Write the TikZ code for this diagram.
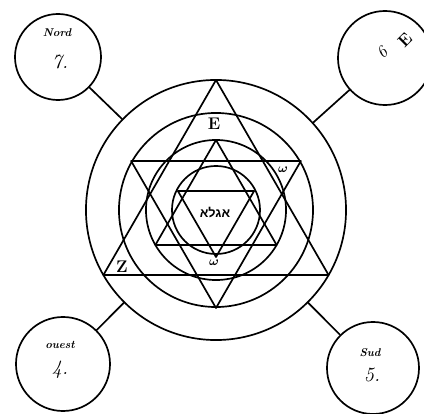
\documentclass[tikz,border=0pt]{standalone}
\usepackage{amsmath}
\usepackage{bm}
\usepackage{fontspec}
\newfontfamily\hebfont[Script=Hebrew]{Liberation Sans}
\TeXXeTstate=1
\usepackage{tikz}
\usetikzlibrary{shapes.geometric, calc}
\tikzstyle{disc}=[circle,draw,line width=1.2pt,inner sep=0pt]
\tikzstyle{seal}=[line width=1.2pt]

\begin{document}
\begin{tikzpicture}[line cap=round,line join=round,x=0.025cm,y=0.025cm]
\useasboundingbox (-216,-204) rectangle (208,210);
\clip(-216,-204) rectangle (208,210);
\fill [white] (-216,-204) rectangle (208,210);
\node [disc, minimum size=6.5cm] (ring) at (0,0) {};
\node [disc, minimum size=4.85cm] (band) at (0,0) {};
\node [disc, minimum size=3.5cm] (mid) at (0,0) {};
\node [disc, minimum size=2.2cm] (core) at (0,0) {};
\node [disc, minimum size=2.15cm] (nord) at (-158,153) {};
\node [disc, minimum size=2.35cm] (est) at (169,152) {};
\node [disc, minimum size=2.35cm] (ouest) at (-153,-154) {};
\node [disc, minimum size=2.3cm] (sud) at (157,-158) {};
\draw [seal] (nord) -- (ring);
\draw [seal] (est) -- (ring);
\draw [seal] (ouest) -- (ring);
\draw [seal] (sud) -- (ring);
\draw [seal] (90:130)-- (210:130)-- (330:130)-- cycle;
\draw [seal] (270:98)-- (30:98)-- (150:98)-- cycle;
\draw [seal] (90:70)-- (210:70)-- (330:70)-- cycle;
\draw [seal,shift={(0,-3)}] (270:44)-- (30:44)-- (150:44)-- cycle;
\node (e) at (-2,86) {\large\textbf{E}};
\node (z) at (-94,-57) {\large\textbf{Z}};
\node (omegaright) at (67,40) {\small$\bm{\omega}$};
\node (omegalow) at (-2,-53) {\small$\bm{\omega}$};
\node (agla) at (-1,-3) {\hebfont\bfseries\small\beginR אגלא\endR};
\begin{scriptsize}
\node (nordname) at (-159,177) {\footnotesize\itshape\bfseries Nord};
\node (nordnum) at (-156,148) {\Large\itshape 7.};
\node [rotate=45,inner sep=0pt] (estnum) at (166,157) {\large\itshape 6};
\node [rotate=45,inner sep=0pt] (estname) at (189,170) {\large\bfseries E};
\node (ouestname) at (-156,-135) {\footnotesize\itshape\bfseries ouest};
\node (ouestnum) at (-156,-160) {\Large\itshape 4.};
\node (sudname) at (154,-143) {\footnotesize\itshape\bfseries Sud};
\node (sudnum) at (156,-165) {\Large\itshape 5.};
\end{scriptsize}
\end{tikzpicture}
\end{document}
